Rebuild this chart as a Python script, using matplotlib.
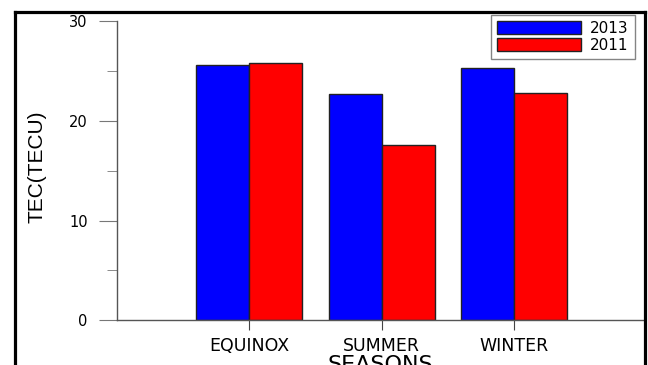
import matplotlib
matplotlib.use('Agg')
import matplotlib.pyplot as plt
import numpy as np
from matplotlib.lines import Line2D

seasons = ['EQUINOX', 'SUMMER', 'WINTER']
tec2013 = [25.6, 22.7, 25.3]
tec2011 = [25.8, 17.6, 22.8]

plt.rcParams['font.family'] = ['DejaVu Sans']

fig = plt.figure(figsize=(6.48, 3.65), dpi=100)
ax = fig.add_axes([0.1806, 0.1225, 0.8117, 0.819])

x = np.arange(1, len(seasons) + 1)
w = 0.4
ax.bar(x - w / 2, tec2013, w, color='#0000ff', edgecolor='#222222', linewidth=1, label='2013')
ax.bar(x + w / 2, tec2011, w, color='#ff0000', edgecolor='#222222', linewidth=1, label='2011')

ax.set_xlim(0, 3.976)
ax.set_ylim(0, 30)
ax.set_xticks(x)
ax.set_xticklabels(seasons, fontsize=12.5)
ax.set_yticks([0, 10, 20, 30])
ax.set_yticks([5, 15, 25], minor=True)
ax.tick_params(axis='y', which='major', length=13, pad=8, color='#777777', labelsize=10.5)
ax.tick_params(axis='y', which='minor', length=7, color='#777777')
ax.tick_params(axis='x', length=7, pad=5, color='#444444')

for s in ['top', 'right']:
    ax.spines[s].set_visible(False)
for s in ['left', 'bottom']:
    ax.spines[s].set_color('#555555')
    ax.spines[s].set_linewidth(1)

ax.set_xlabel('SEASONS', fontsize=16, labelpad=0)
fig.text(37 / 648, 1 - 167 / 365, 'TEC(TECU)', rotation=90, ha='center', va='center',
         fontsize=15, family=['Liberation Sans Narrow', 'Liberation Sans', 'DejaVu Sans'])

leg = ax.legend(loc='upper right', bbox_to_anchor=(0.98, 0.96), bbox_transform=fig.transFigure,
                borderaxespad=0, fontsize=11, handlelength=5.5, handleheight=0.95,
                handletextpad=0.6, labelspacing=0.15, borderpad=0.4, fancybox=False)
leg.get_frame().set_edgecolor('#666666')
leg.get_frame().set_linewidth(1)

# outer black frame
fx0, fx1, fy1 = 15 / 648, 645 / 648, 1 - 12 / 365
for xs, ys in [([fx0, fx0], [0, fy1]), ([fx0, fx1], [fy1, fy1]), ([fx1, fx1], [fy1, 0])]:
    fig.add_artist(Line2D(xs, ys, transform=fig.transFigure, color='black', linewidth=2.3))

fig.savefig('out.png', dpi=100)
